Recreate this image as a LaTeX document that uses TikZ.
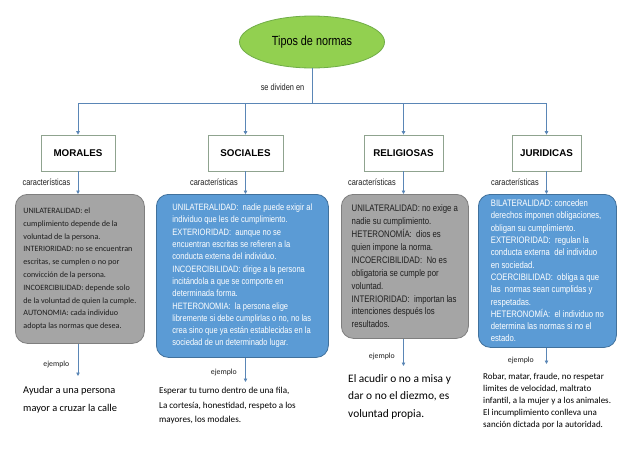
\documentclass[tikz,border=0pt]{standalone}
\usepackage{fontspec}
\setmainfont{Liberation Sans}
\newfontfamily\narrowfont{Liberation Sans}[FakeStretch=0.82]
\newfontfamily\calfont{Carlito}
\usetikzlibrary{shapes,arrows.meta,positioning,calc}

\definecolor{linecol}{HTML}{5A86B6}
\definecolor{bluefill}{HTML}{5B9BD5}
\definecolor{blueedge}{HTML}{41719C}
\definecolor{grayfill}{HTML}{A5A5A5}
\definecolor{grayedge}{HTML}{7F7F7F}
\definecolor{greenfill}{HTML}{92D050}
\definecolor{greenedge}{HTML}{70AD47}
\definecolor{titleedge}{HTML}{8FA38F}
\definecolor{darktext}{HTML}{1E1E1E}

\tikzset{
  conn/.style={draw=linecol, line width=0.8pt, -{Triangle[length=3.5pt,width=3.5pt]}},
  busline/.style={draw=linecol, line width=0.8pt},
  tipo/.style={draw=titleedge, line width=0.7pt, fill=white, minimum width=#1,
    minimum height=36pt, inner sep=0pt, font=\bfseries\fontsize{9.8}{11}\selectfont},
  detbox/.style={rounded corners=12pt, line width=0.8pt, anchor=north west,
    inner sep=0pt, align=left},
  grisbox/.style={detbox, draw=grayedge, fill=grayfill, text=darktext},
  azulbox/.style={detbox, draw=blueedge, fill=bluefill, text=white},
  etiq/.style={font=\narrowfont\fontsize{9}{10}\selectfont, text=darktext},
  ejtxt/.style={font=\calfont\fontsize{7.8}{9}\selectfont, text=darktext},
  ejemplo/.style={anchor=north west, inner sep=0pt, align=left, text=black}
}

\begin{document}
\begin{tikzpicture}[x=1pt, y=-1pt]
    \useasboundingbox (0,0) rectangle (624,461);
    \fill[white] (0,0) rectangle (624,461);

    % raiz
    \node[ellipse, draw=greenedge, line width=0.8pt, fill=greenfill, minimum width=145pt,
        minimum height=52pt, inner sep=0pt, font=\narrowfont\fontsize{13.2}{15}\selectfont] (tipos) at (312,42) {Tipos de normas};
    \coordinate (bus) at (312,103);

    % tipos de normas
    \node[tipo=74pt] (moral) at (78,153) {MORALES};
    \node[tipo=75pt] (social) at (245.5,153) {SOCIALES};
    \node[tipo=79pt] (relig) at (403.5,153) {RELIGIOSAS};
    \node[tipo=69pt] (jurid) at (546.5,153) {JURIDICAS};

    \draw[busline] (tipos.south) -- node[pos=0.55, left=4pt, etiq] {se dividen en} (bus);
    \draw[busline] (bus -| moral.north) -- (bus -| jurid.north);
    \foreach \n in {moral,social,relig,jurid}
        \draw[conn] (bus -| \n.north) -- (\n.north);

    % caracteristicas
    \node[grisbox, minimum width=129pt, minimum height=149pt, font=\calfont\fontsize{8.1}{12.8}\selectfont] (moraldet) at (15,194) {%
        UNILATERALIDAD: el\\
        cumplimiento depende de la\\
        voluntad de la persona.\\
        INTERIORIDAD: no se encuentran\\
        escritas, se cumplen o no por\\
        convicción de la persona.\\
        INCOERCIBILIDAD: depende solo\\
        de la voluntad de quien la cumple.\\
        AUTONOMIA: cada individuo\\
        adopta las normas que desea.};
    \node[azulbox, minimum width=172pt, minimum height=163pt, font=\narrowfont\fontsize{9.2}{12.3}\selectfont] (socialdet) at (156,194) {%
        UNILATERALIDAD:\ \ nadie puede exigir al\\
        individuo que les de cumplimiento.\\
        EXTERIORIDAD:\ \ aunque no se\\
        encuentran escritas se refieren a la\\
        conducta externa del individuo.\\
        INCOERCIBILIDAD: dirige a la persona\\
        incitándola a que se comporte en\\
        determinada forma.\\
        HETERONOMIA:\ \ la persona elige\\
        libremente si debe cumplirlas o no, no las\\
        crea sino que ya están establecidas en la\\
        sociedad de un determinado lugar.};
    \node[grisbox, minimum width=127pt, minimum height=144pt, font=\narrowfont\fontsize{9.5}{12.9}\selectfont] (religdet) at (341,194) {%
        UNILATERALIDAD: no exige a\\
        nadie su cumplimiento.\\
        HETERONOMÍA:\ \ dios es\\
        quien impone la norma.\\
        INCOERCIBILIDAD:\ \ No es\\
        obligatoria se cumple por\\
        voluntad.\\
        INTERIORIDAD:\ \ importan las\\
        intenciones después los\\
        resultados.};
    \node[azulbox, minimum width=138pt, minimum height=153pt, font=\narrowfont\fontsize{9.4}{12.3}\selectfont] (juriddet) at (478,194) {%
        BILATERALIDAD: conceden\\
        derechos imponen obligaciones,\\
        obligan su cumplimiento.\\
        EXTERIORIDAD:\ \ regulan la\\
        conducta externa\ \ del individuo\\
        en sociedad.\\
        COERCIBILIDAD:\ \ obliga a que\\
        las\ \ normas sean cumplidas y\\
        respetadas.\\
        HETERONOMÍA:\ \ el individuo no\\
        determina las normas si no el\\
        estado.};

    \draw[conn] (moral.south) -- node[midway, left=4pt, etiq] {características} (moral.south |- moraldet.north);
    \draw[conn] (social.south) -- node[midway, left=4pt, etiq] {características} (social.south |- socialdet.north);
    \draw[conn] (relig.south) -- node[midway, left=4pt, etiq] {características} (relig.south |- religdet.north);
    \draw[conn] (jurid.south) -- node[midway, left=4pt, etiq] {características} (jurid.south |- juriddet.north);

    % ejemplos
    \node[ejemplo, font=\calfont\fontsize{10.4}{18.5}\selectfont] (moralej) at (23,386) {%
        Ayudar a una persona\\mayor a cruzar la calle};
    \node[ejemplo, font=\calfont\fontsize{9.1}{14.5}\selectfont] (socialej) at (159,387) {%
        Esperar tu turno dentro de una fila,\\
        La cortesía, honestidad, respeto a los\\
        mayores, los modales.};
    \node[ejemplo, font=\calfont\fontsize{11.4}{17.5}\selectfont] (religej) at (348,374) {%
        El acudir o no a misa y\\dar o no el diezmo, es\\voluntad propia.};
    \node[ejemplo, font=\calfont\fontsize{9}{12}\selectfont] (juridej) at (483,373) {%
        Robar, matar, fraude, no respetar\\
        limites de velocidad, maltrato\\
        infantil, a la mujer y a los animales.\\
        El incumplimiento conlleva una\\
        sanción dictada por la autoridad.};

    \draw[conn, shorten >=10pt] (moraldet.south -| moral.south) -- node[midway, left=5pt, ejtxt] {ejemplo} (moralej.north -| moral.south);
    \draw[conn, shorten >=5pt] (socialdet.south -| social.south) -- node[midway, left=5pt, ejtxt] {ejemplo} (socialej.north -| social.south);
    \draw[conn, shorten >=8pt] (religdet.south -| relig.south) -- node[midway, left=5pt, ejtxt] {ejemplo} (religej.north -| relig.south);
    \draw[conn, shorten >=9pt] (juriddet.south -| jurid.south) -- node[midway, left=9pt, ejtxt] {ejemplo} (juridej.north -| jurid.south);
\end{tikzpicture}
\end{document}
